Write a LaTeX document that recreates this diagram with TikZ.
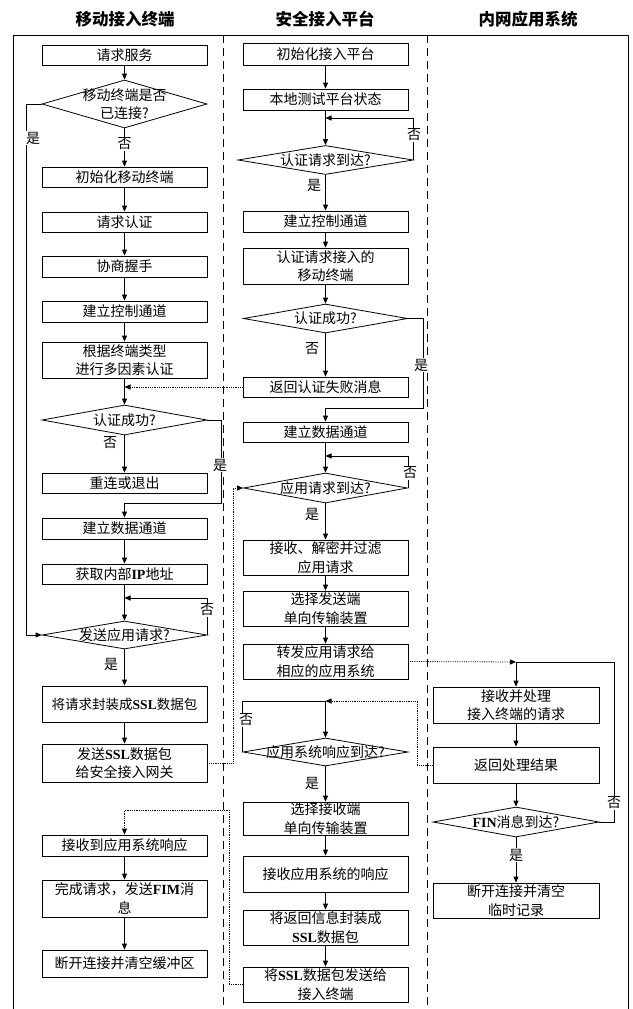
\documentclass[tikz,border=0pt]{standalone}
\usepackage{fontspec}
\setmainfont{Noto Sans CJK SC}
\newfontfamily\tnr{Liberation Serif}
\usetikzlibrary{arrows.meta,shapes.geometric}
\newcommand\BL[1]{{\tnr\bfseries #1}}
\newcommand\fs{\fontsize{14}{18.5}\selectfont}
\newcommand\fsn{\fontsize{13.5}{18}\selectfont}
\begin{document}
\begin{tikzpicture}[x=1pt,y=-1pt,
  box/.style={draw,line width=0.8pt,minimum width=165pt,inner sep=0pt,align=center,font=\fs},
  dia/.style={draw,diamond,line width=0.8pt,inner sep=0pt},
  dtxt/.style={inner sep=0pt,align=center,font=\fs},
  arr/.style={line width=0.8pt,-{Triangle[length=6pt,width=5pt]}},
  ln/.style={line width=0.8pt},
  dotarr/.style={line width=0.8pt,densely dotted,-{Triangle[length=6pt,width=5pt]}},
  lab/.style={fill=white,inner sep=0.5pt,font=\fs},
  hdr/.style={font=\fontsize{16.5}{18}\selectfont\bfseries},
  lane/.style={line width=0.8pt,dash pattern=on 8pt off 5pt}]
\useasboundingbox (0,0) rectangle (632,1009);
% frame
\coordinate (F1) at (13,1009); \coordinate (F2) at (13,35);
\coordinate (F3) at (628,35); \coordinate (F4) at (628,1009);
\draw[line width=0.9pt] (F1) -- (F2) -- (F3) -- (F4);
\coordinate (D1a) at (223,35); \coordinate (D1b) at (223,1009);
\coordinate (D2a) at (427,35); \coordinate (D2b) at (427,1009);
\draw[lane] (D1a) -- (D1b);
\draw[lane] (D2a) -- (D2b);
% headers
\node[hdr] (H1) at (125,19) {移动接入终端};
\node[hdr] (H2) at (325,19) {安全接入平台};
\node[hdr] (H3) at (528,19) {内网应用系统};

% ---------------- left column
\node[box,minimum height=20pt] (L1) at (124.5,55) {请求服务};
\node[dia,minimum width=165pt,minimum height=48pt] (LD1) at (124.5,104) {};
\node[dtxt] (LD1t) at (124.5,104) {移动终端是否\\已连接?};
\node[box,minimum height=20pt] (L2) at (124.5,177) {初始化移动终端};
\node[box,minimum height=20pt] (L3) at (124.5,222) {请求认证};
\node[box,minimum height=21pt] (L4) at (124.5,266.5) {协商握手};
\node[box,minimum height=21pt] (L5) at (124.5,311.5) {建立控制通道};
\node[box,minimum height=36pt] (L6) at (124.5,360) {根据终端类型\\进行多因素认证};
\coordinate (J1) at (124.5,387);
\node[dia,minimum width=165pt,minimum height=30pt] (LD2) at (124.5,420) {};
\node[dtxt] (LD2t) at (124.5,420) {认证成功?};
\node[box,minimum height=20pt] (L7) at (124.5,483) {重连或退出};
\node[box,minimum height=21pt] (L8) at (124.5,528.5) {建立数据通道};
\node[box,minimum height=20pt] (L9) at (124.5,574) {获取内部\BL{IP}地址};
\coordinate (JL3) at (124.5,598);
\node[dia,minimum width=165pt,minimum height=28pt] (LD3) at (124.5,635) {};
\node[dtxt] (LD3t) at (124.5,635) {发送应用请求?};
\node[box,minimum height=36pt,font=\fsn] (L10) at (124.5,704) {将请求封装成\BL{SSL}数据包};
\node[box,minimum height=38pt] (L11) at (124.5,763) {发送\BL{SSL}数据包\\给安全接入网关};
\node[box,minimum height=21pt] (L12) at (124.5,845.5) {接收到应用系统响应};
\node[box,minimum height=37pt] (L13) at (124.5,898.5) {完成请求，发送\BL{FIM}消\\息};
\node[box,minimum height=27pt] (L14) at (124.5,963.5) {断开连接并清空缓冲区};

% ---------------- middle column
\node[box,minimum height=22pt] (M1) at (325.5,54) {初始化接入平台};
\node[box,minimum height=21pt] (M2) at (325.5,99.5) {本地测试平台状态};
\coordinate (JM1) at (325.5,118);
\node[dia,minimum width=175pt,minimum height=29pt] (MD1) at (325.5,160) {};
\node[dtxt] (MD1t) at (325.5,160) {认证请求到达?};
\node[box,minimum height=21pt] (M3) at (325.5,221.5) {建立控制通道};
\node[box,minimum height=36pt] (M4) at (325.5,266) {认证请求接入的\\移动终端};
\node[dia,minimum width=164pt,minimum height=29pt] (MD2) at (325.5,318.5) {};
\node[dtxt] (MD2t) at (325.5,318.5) {认证成功?};
\node[box,minimum height=20pt] (M5) at (325.5,387) {返回认证失败消息};
\node[box,minimum height=20pt] (M6) at (325.5,432) {建立数据通道};
\coordinate (JM3) at (325.5,456);
\node[dia,minimum width=164pt,minimum height=30pt] (MD3) at (325.5,488) {};
\node[dtxt] (MD3t) at (325.5,488) {应用请求到达?};
\node[box,minimum height=35pt] (M7) at (325.5,557.5) {接收、解密并过滤\\应用请求};
\node[box,minimum height=35pt] (M8) at (325.5,608.5) {选择发送端\\单向传输装置};
\node[box,minimum height=35pt] (M9) at (325.5,661.5) {转发应用请求给\\相应的应用系统};
\coordinate (JM4) at (325.5,701);
\node[dia,minimum width=165pt,minimum height=28pt] (MD4) at (325.5,752) {};
\node[dtxt] (MD4t) at (325.5,752) {应用系统响应到达?};
\node[box,minimum height=33pt] (M10) at (325.5,818.5) {选择接收端\\单向传输装置};
\node[box,minimum height=36pt] (M11) at (325.5,874) {接收应用系统的响应};
\node[box,minimum height=35pt] (M12) at (325.5,927.5) {将返回信息封装成\\\BL{SSL}数据包};
\node[box,minimum height=35pt] (M13) at (325.5,984.5) {将\BL{SSL}数据包发送给\\接入终端};

% ---------------- right column
\coordinate (JR) at (516,662);
\node[box,minimum width=166pt,minimum height=36pt] (R1) at (516,705) {接收并处理\\接入终端的请求};
\node[box,minimum width=166pt,minimum height=36pt] (R2) at (516,765) {返回处理结果};
\node[dia,minimum width=166pt,minimum height=30pt] (RD1) at (516,822) {};
\node[dtxt] (RD1t) at (516,822) {\BL{FIN}消息到达?};
\node[box,minimum width=166pt,minimum height=35pt] (R3) at (516,900.5) {断开连接并清空\\临时记录};

% ---------------- helper coordinates
\coordinate (cL2) at (221,503);
\coordinate (cL11) at (233,488);
\coordinate (cM13) at (229,810);
\coordinate (cM2) at (423,408);
\coordinate (cR1) at (614,662);
\coordinate (cR2) at (417,701);

% ---------------- left connectors
\draw[arr] (L1) -- (LD1);
\draw[arr] (LD1) -- (L2);
\draw[arr] (LD1.west) -- ++(-15,0) |- (LD3.west);
\draw[arr] (L2) -- (L3);
\draw[arr] (L3) -- (L4);
\draw[arr] (L4) -- (L5);
\draw[arr] (L5) -- (L6);
\draw[arr] (L6) -- (LD2);
\draw[arr] (LD2) -- (L7);
\draw[arr] (LD2.east) -| (cL2) -| (L8.north);
\draw[arr] (L8) -- (L9);
\draw[arr] (L9) -- (LD3);
\draw[arr] (LD3.east) |- (JL3);
\draw[arr] (LD3) -- (L10);
\draw[arr] (L10) -- (L11);
\draw[arr] (L12) -- (L13);
\draw[arr] (L13) -- (L14);

% ---------------- middle connectors
\draw[arr] (M1) -- (M2);
\draw[arr] (M2) -- (MD1);
\draw[arr] (MD1.east) |- (JM1);
\draw[arr] (MD1) -- (M3);
\draw[arr] (M3) -- (M4);
\draw[arr] (M4) -- (MD2);
\draw[arr] (MD2) -- (M5);
\draw[arr] (MD2.east) -| (cM2) -| (M6.north);
\draw[arr] (M6) -- (MD3);
\draw[arr] (MD3.east) |- (JM3);
\draw[arr] (MD3) -- (M7);
\draw[arr] (M7) -- (M8);
\draw[arr] (M8) -- (M9);
\draw[ln] (MD4.west) |- (JM4);
\draw[arr] (JM4) -- (MD4);
\draw[arr] (MD4) -- (M10);
\draw[arr] (M10) -- (M11);
\draw[arr] (M11) -- (M12);
\draw[arr] (M12) -- (M13);

% ---------------- right connectors
\draw[ln] (RD1.east) -| (cR1) -- (JR);
\draw[arr] (JR) -- (R1);
\draw[arr] (R1) -- (R2);
\draw[arr] (R2) -- (RD1);
\draw[arr] (RD1) -- (R3);

% ---------------- dotted cross-lane
\draw[dotarr] (M5.west) -- (J1);
\draw[dotarr] (L11.east) -| (cL11) -- (MD3.west);
\draw[dotarr] (M13.west) -| (cM13) -| (L12.north);
\draw[dotarr] (M9.east) -- (JR);
\draw[dotarr] (R2.west) -| (cR2) -- (JM4);

% ---------------- labels
\node[lab] (y1) at (33,138) {是};
\node[lab] (n1) at (124.5,144) {否};
\node[lab] (n2) at (110,443) {否};
\node[lab] (y2) at (220,465) {是};
\node[lab] (n3) at (207,610) {否};
\node[lab] (y3) at (111,664) {是};
\node[lab] (n4) at (414,135) {否};
\node[lab] (y4) at (314,185) {是};
\node[lab] (n5) at (312,349) {否};
\node[lab] (y5) at (421,365) {是};
\node[lab] (n6) at (410,473) {否};
\node[lab] (y6) at (312,514) {是};
\node[lab] (n7) at (246,720) {否};
\node[lab] (y7) at (312,783) {是};
\node[lab] (n8) at (614,803) {否};
\node[lab] (y8) at (516,855) {是};
\end{tikzpicture}
\end{document}
